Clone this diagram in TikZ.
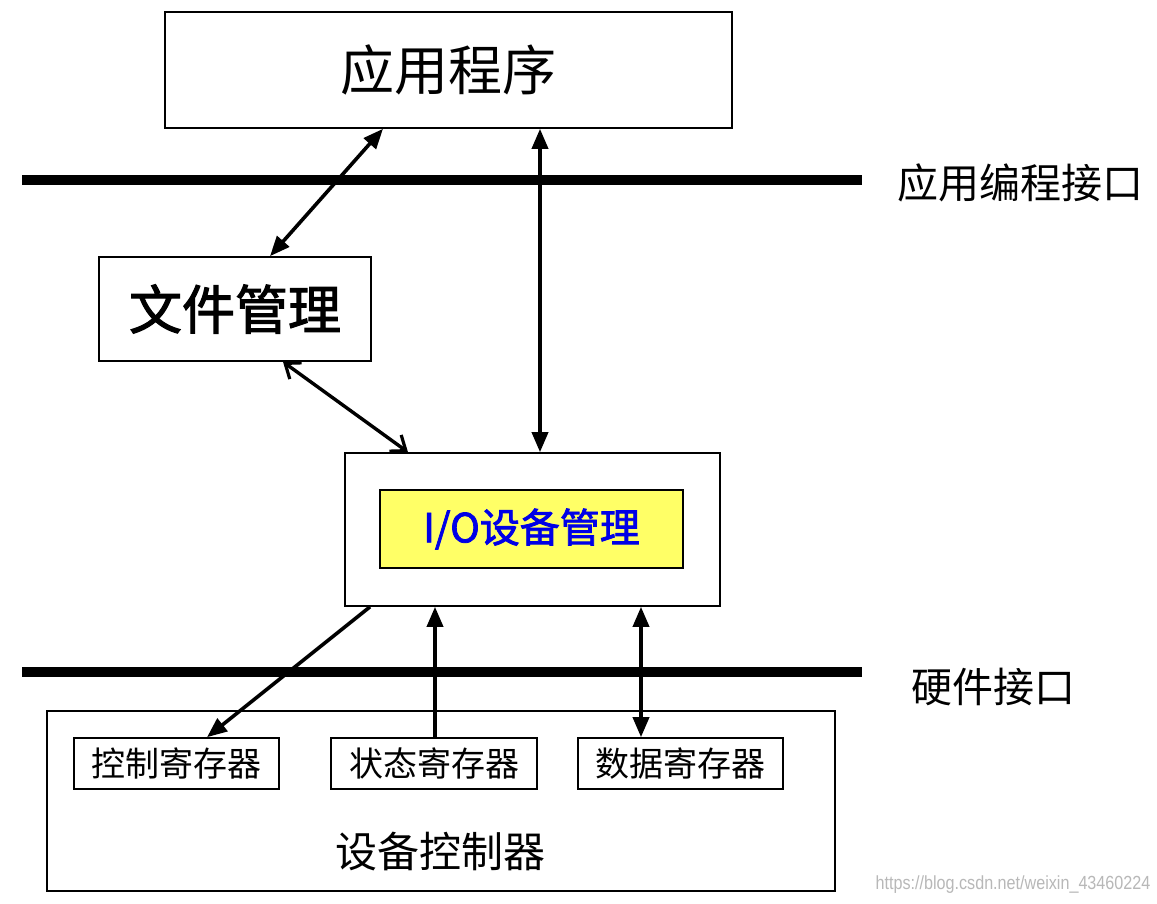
\documentclass[tikz,border=0pt]{standalone}
\usepackage{fontspec}
\setmainfont{Liberation Sans}
\newfontfamily\cjk{Noto Sans CJK SC}
\newfontfamily\cjkb{Noto Sans CJK SC}[FakeBold=2]
\usetikzlibrary{arrows.meta}
\definecolor{ioyellow}{RGB}{255,255,102}
\definecolor{ioblue}{RGB}{0,0,230}
\begin{document}
\begin{tikzpicture}[x=1pt,y=-1pt,
  box/.style={draw=black,line width=1.6pt,fill=white,inner sep=0pt,align=center},
  conn/.style={line width=3.6pt,-{Triangle[length=20pt,width=16pt]}},
  dbl/.style={line width=3.6pt,{Triangle[length=20pt,width=16pt]}-{Triangle[length=20pt,width=16pt]}},
  barb/.style={line width=3.4pt,{Straight Barb[length=13pt,width=20pt,line width=3.2pt]}-{Straight Barb[length=13pt,width=20pt,line width=3.2pt]}},
  bar/.style={line width=10pt},
  lbl/.style={inner sep=0pt}]
\useasboundingbox (0,0) rectangle (1157,903);
\fill[white] (0,0) rectangle (1157,903);

% boxes
\node[box,minimum width=567pt,minimum height=116pt] (app) at (448.5,70) {\fontsize{54}{60}\selectfont\cjk 应用程序};
\node[box,minimum width=272pt,minimum height=104pt] (fm) at (235,309) {\fontsize{53}{60}\selectfont\cjkb 文件管理};
\node[box,minimum width=375pt,minimum height=153pt] (io) at (532.5,529.5) {};
\node[box,fill=ioyellow,minimum width=303pt,minimum height=78pt] (ioin) at (531.5,529) {\fontsize{40}{46}\selectfont\cjkb\color{ioblue} I/O设备管理};
\node[box,minimum width=788pt,minimum height=180pt] (dc) at (441,801) {};
\node[box,minimum width=205pt,minimum height=51pt] (ctrl) at (176.5,763.5) {\fontsize{34}{40}\selectfont\cjk 控制寄存器};
\node[box,minimum width=206pt,minimum height=51pt] (stat) at (434,763.5) {\fontsize{34}{40}\selectfont\cjk 状态寄存器};
\node[box,minimum width=205pt,minimum height=51pt] (data) at (680.5,763.5) {\fontsize{34}{40}\selectfont\cjk 数据寄存器};
\node[lbl] (dclbl) at (440,852) {\fontsize{42}{48}\selectfont\cjk 设备控制器};

% interface bars
\coordinate (apiL) at (22,180);
\coordinate (apiR) at (862,180);
\coordinate (hwL) at (22,672);
\coordinate (hwR) at (862,672);
\draw[bar] (apiL) -- (apiR);
\draw[bar] (hwL) -- (hwR);
\node[lbl] (apilbl) at (1020,183) {\fontsize{41}{46}\selectfont\cjk 应用编程接口};
\node[lbl] (hwlbl) at (993,687) {\fontsize{41}{46}\selectfont\cjk 硬件接口};

% connectors
\draw[dbl] ([xshift=-65.5pt]app.south) -- ([xshift=35pt]fm.north);
\draw[dbl] ([xshift=91.5pt]app.south) -- ([xshift=7.5pt]io.north);
\draw[barb] ([xshift=48pt]fm.south) -- ([xshift=-124.5pt]io.north);
\draw[conn] ([xshift=-162.5pt]io.south) -- ([xshift=30.5pt]ctrl.north);
\draw[conn] ([xshift=1pt]stat.north) -- ([xshift=-97.5pt]io.south);
\draw[dbl] ([xshift=-39.5pt]data.north) -- ([xshift=108.5pt]io.south);

% watermark
\node[lbl,text=black!28] (wm) at (1013,885) {\fontsize{19}{21}\selectfont\addfontfeatures{FakeStretch=0.85}https://blog.csdn.net/weixin\_43460224};
\end{tikzpicture}
\end{document}
